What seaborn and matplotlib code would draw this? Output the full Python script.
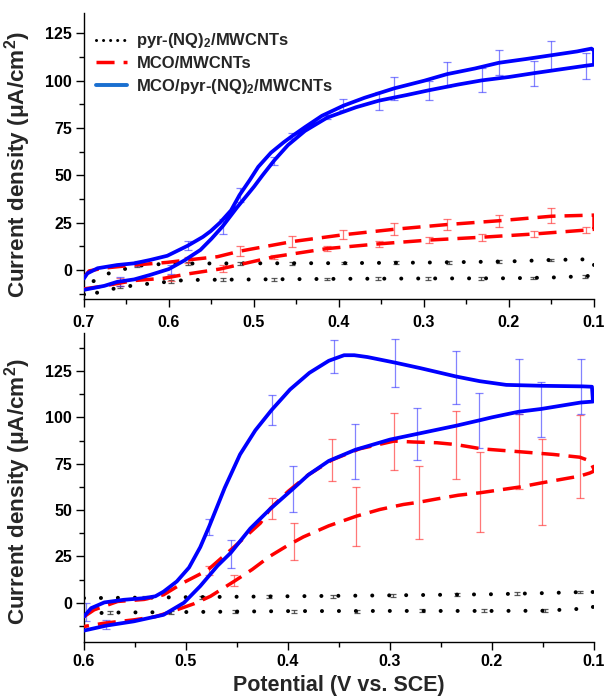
import matplotlib
matplotlib.use("Agg")
import matplotlib.pyplot as plt
from matplotlib.lines import Line2D
from matplotlib.ticker import MultipleLocator, FormatStrFormatter
import pandas as pd
import seaborn as sns

# ---------------- data ----------------
# Top panel: forward (upper) branch 0.7 -> 0.1, backward (lower) branch 0.1 -> 0.7
t_blue_up_E = [0.700, 0.696, 0.684, 0.661, 0.641, 0.622, 0.602, 0.578, 0.560, 0.551, 0.540, 0.527, 0.517,
               0.505, 0.495, 0.480, 0.465, 0.455, 0.440, 0.420, 0.395, 0.370, 0.335, 0.300, 0.273, 0.240,
               0.212, 0.180, 0.150, 0.120, 0.103, 0.100]
t_blue_up_j = [-4.5, -1.8, 0.9, 2.6, 3.5, 5.3, 7.5, 12.8, 17.5, 20.5, 25.0, 31.5, 39.6,
               47.5, 54.5, 62.0, 67.5, 70.8, 75.5, 81.5, 86.8, 91.0, 96.0, 100.0, 103.5, 106.5,
               109.5, 111.5, 113.5, 115.5, 117.0, 116.0]
t_blue_dn_E = [0.100, 0.109, 0.140, 0.171, 0.200, 0.232, 0.260, 0.294, 0.320, 0.353, 0.380, 0.414, 0.440,
               0.460, 0.476, 0.490, 0.500, 0.520, 0.537, 0.550, 0.563, 0.582, 0.600, 0.622, 0.641, 0.661,
               0.676, 0.700]
t_blue_dn_j = [108.5, 108.0, 106.0, 104.0, 102.0, 100.2, 98.0, 95.0, 92.5, 89.5, 86.0, 80.5, 73.5,
               66.0, 58.0, 50.0, 44.0, 33.0, 23.0, 16.5, 10.6, 5.0, 0.5, -2.6, -5.0, -6.3,
               -8.4, -10.5]

t_red_up_E = [0.700, 0.694, 0.676, 0.641, 0.602, 0.578, 0.543, 0.517, 0.455, 0.395, 0.335, 0.273, 0.212,
              0.150, 0.100]
t_red_up_j = [-4.0, -0.5, 1.0, 2.6, 4.0, 5.3, 7.0, 9.9, 15.0, 18.6, 21.5, 24.0, 26.0, 28.4, 29.0]
t_red_dn_E = [0.100, 0.109, 0.171, 0.232, 0.294, 0.353, 0.414, 0.476, 0.527, 0.540, 0.578, 0.606, 0.641,
              0.661, 0.684, 0.700]
t_red_dn_j = [21.5, 21.1, 19.0, 17.3, 15.8, 13.8, 11.3, 7.0, 1.8, 0.5, -2.1, -4.4, -5.6, -7.2, -9.0, -10.0]

t_blk_up_E = [0.700, 0.692, 0.673, 0.653, 0.635, 0.615, 0.580, 0.500, 0.400, 0.300, 0.200, 0.150, 0.110, 0.100]
t_blk_up_j = [-13.0, -6.7, -2.1, 0.4, 2.3, 3.0, 3.4, 3.5, 3.6, 3.9, 4.5, 5.3, 5.6, 5.5]
t_blk_dn_E = [0.100, 0.111, 0.150, 0.200, 0.300, 0.400, 0.500, 0.580, 0.596, 0.618, 0.637, 0.657, 0.676,
              0.696, 0.700]
t_blk_dn_j = [-3.0, -3.3, -4.0, -4.4, -4.5, -4.7, -5.0, -5.3, -6.0, -7.0, -7.9, -9.2, -10.9, -13.5, -14.0]

# Top panel error bars
t_blue_eb_E = [0.637, 0.578, 0.517, 0.455, 0.395, 0.335, 0.273, 0.212, 0.150,
               0.658, 0.598, 0.537, 0.476, 0.414, 0.353, 0.294, 0.232, 0.171, 0.109]
t_blue_eb_j = [3.6, 13.0, 39.6, 71.0, 87.5, 95.8, 103.4, 109.7, 113.4,
               -6.2, 0.3, 22.9, 57.7, 81.0, 89.3, 94.9, 100.4, 103.8, 108.0]
t_blue_eb_e = [1.3, 2.3, 3.5, 1.6, 2.9, 6.0, 6.6, 6.6, 7.7,
               2.3, 2.4, 4.0, 2.2, 1.0, 4.8, 5.1, 6.2, 6.4, 6.8]

t_red_eb_E = [0.578, 0.517, 0.455, 0.395, 0.335, 0.273, 0.212, 0.150,
              0.658, 0.598, 0.537, 0.476, 0.414, 0.353, 0.294, 0.232, 0.171, 0.109]
t_red_eb_j = [5.3, 9.9, 15.0, 18.6, 21.5, 24.0, 26.0, 28.6,
              -6.5, -4.4, 0.9, 7.0, 11.3, 13.8, 15.8, 17.3, 19.0, 21.1]
t_red_eb_e = [1.8, 2.6, 3.1, 2.5, 3.1, 2.8, 3.1, 4.0,
              2.0, 1.5, 1.8, 1.1, 1.1, 1.5, 1.8, 1.8, 1.8, 1.8]

t_blk_eb_E = [0.638, 0.578, 0.516, 0.455, 0.394, 0.333, 0.271, 0.212, 0.151,
              0.658, 0.598, 0.537, 0.476, 0.414, 0.354, 0.295, 0.233, 0.172, 0.111]
t_blk_eb_j = [2.2, 3.4, 3.5, 3.5, 3.6, 3.8, 4.1, 4.4, 5.3,
              -9.0, -6.0, -5.2, -5.0, -4.8, -4.6, -4.5, -4.4, -4.2, -3.3]
t_blk_eb_e = [0.7] * 19

# Bottom panel
b_blue_up_E = [0.600, 0.593, 0.580, 0.561, 0.541, 0.530, 0.522, 0.509, 0.497, 0.486, 0.477, 0.462, 0.447,
               0.432, 0.416, 0.398, 0.379, 0.360, 0.345, 0.335, 0.322, 0.295, 0.270, 0.235, 0.212, 0.186,
               0.150, 0.111, 0.102]
b_blue_up_j = [-7.4, -2.9, 0.2, 1.6, 2.5, 3.5, 6.0, 11.5, 19.0, 30.0, 41.5, 62.0, 80.0,
               93.0, 104.0, 115.0, 124.0, 130.5, 133.5, 133.5, 132.5, 129.5, 126.5, 122.0, 119.5, 117.5,
               117.0, 116.7, 116.5]
b_blue_dn_E = [0.101, 0.113, 0.152, 0.174, 0.200, 0.213, 0.235, 0.274, 0.300, 0.334, 0.360, 0.380, 0.395,
               0.418, 0.437, 0.456, 0.469, 0.486, 0.502, 0.522, 0.551, 0.578, 0.600]
b_blue_dn_j = [108.5, 108.0, 104.5, 103.0, 100.0, 98.3, 95.5, 91.0, 88.0, 82.5, 76.5, 69.0, 61.5,
               50.3, 40.0, 27.0, 20.0, 9.0, 0.0, -6.5, -10.0, -12.3, -15.0]

b_red_up_E = [0.600, 0.590, 0.567, 0.541, 0.522, 0.502, 0.479, 0.453, 0.427, 0.417, 0.400, 0.380, 0.357,
              0.330, 0.296, 0.277, 0.254, 0.235, 0.210, 0.174, 0.140, 0.114, 0.104, 0.100]
b_red_up_j = [-7.5, -3.8, 0.7, 1.8, 4.3, 11.0, 17.5, 30.0, 43.0, 51.0, 60.0, 69.0, 77.0,
              83.0, 87.2, 86.7, 86.3, 85.3, 83.0, 81.5, 80.0, 78.5, 76.5, 72.0]
b_red_dn_E = [0.100, 0.104, 0.114, 0.151, 0.172, 0.212, 0.233, 0.254, 0.272, 0.287, 0.310, 0.333, 0.360,
              0.385, 0.400, 0.418, 0.435, 0.453, 0.476, 0.492, 0.510, 0.530, 0.551, 0.580, 0.600]
b_red_dn_j = [71.0, 70.0, 68.3, 64.7, 62.5, 59.3, 58.0, 56.0, 54.2, 53.0, 50.3, 46.7, 41.5,
              35.5, 31.0, 25.0, 18.0, 11.5, 3.5, -0.5, -4.0, -7.5, -9.2, -11.0, -12.8]

b_blk_up_E = [0.600, 0.500, 0.400, 0.300, 0.200, 0.150, 0.110, 0.100]
b_blk_up_j = [2.5, 3.0, 3.5, 4.0, 4.6, 5.2, 5.8, 5.8]
b_blk_dn_E = [0.100, 0.104, 0.150, 0.200, 0.300, 0.400, 0.500, 0.580, 0.590, 0.600]
b_blk_dn_j = [-2.0, -3.0, -4.3, -4.4, -4.4, -4.5, -5.0, -5.3, -6.0, -7.0]

b_blue_eb_E = [0.598, 0.477, 0.416, 0.355, 0.295, 0.235, 0.174, 0.113,
               0.578, 0.456, 0.395, 0.334, 0.274, 0.213, 0.152]
b_blue_eb_j = [-5.0, 41.0, 103.8, 132.9, 129.3, 121.4, 116.5, 116.5,
               -11.7, 26.5, 61.5, 81.5, 91.0, 98.3, 104.2]
b_blue_eb_e = [5.0, 4.2, 8.0, 8.8, 12.9, 14.3, 14.9, 14.9,
               2.5, 7.5, 12.5, 15.0, 14.2, 14.7, 14.6]

b_red_eb_E = [0.477, 0.416, 0.357, 0.296, 0.235, 0.174, 0.114,
              0.453, 0.394, 0.333, 0.272, 0.212, 0.151]
b_red_eb_j = [17.4, 51.0, 77.2, 87.0, 85.2, 81.7, 78.7,
              12.0, 33.0, 46.7, 54.0, 59.6, 65.1]
b_red_eb_e = [2.3, 5.7, 11.3, 15.6, 18.2, 20.3, 22.3,
              3.2, 10.0, 15.9, 19.5, 21.6, 23.0]

b_blk_eb_E = [0.540, 0.484, 0.419, 0.356, 0.297, 0.234, 0.175, 0.114,
              0.574, 0.515, 0.452, 0.394, 0.332, 0.269, 0.208, 0.148]
b_blk_eb_j = [2.8, 3.0, 3.4, 3.6, 4.0, 4.3, 4.9, 5.8,
              -5.5, -5.0, -4.7, -4.6, -4.5, -4.4, -4.4, -4.3]
b_blk_eb_e = [0.8] * 16

legend_labels = ["pyr-(NQ)$_2$/MWCNTs", "MCO/MWCNTs", "MCO/pyr-(NQ)$_2$/MWCNTs"]
x_label = "Potential (V vs. SCE)"
y_label = "Current density (\u03bcA/cm$^2$)"

# ---------------- style ----------------
sns.set_style("ticks")
plt.rcParams.update({
    "font.family": ["Liberation Sans", "DejaVu Sans"],
    "font.weight": "bold",
    "axes.labelweight": "bold",
    "mathtext.fontset": "custom",
    "mathtext.rm": "Liberation Sans:bold",
    "mathtext.bf": "Liberation Sans:bold",
    "mathtext.it": "Liberation Sans:bold:italic",
    "mathtext.default": "bf",
    "axes.edgecolor": "black",
    "axes.linewidth": 1.0,
    "xtick.color": "black",
    "ytick.color": "black",
})

BLUE = "#0000ff"
RED = "#ff0000"
BLK = "#000000"
DOT = dict(color=BLK, lw=2.9, linestyle=(0, (0.01, 4.2)), dash_capstyle="round")
DASH = dict(color=RED, lw=2.5, linestyle=(0, (5.2, 2.6)))
SOLID = dict(color=BLUE, lw=2.7, linestyle="-")


def loop(ax, e_up, j_up, e_dn, j_dn, style):
    df = pd.DataFrame({"E": list(e_up) + list(e_dn), "j": list(j_up) + list(j_dn)})
    sns.lineplot(data=df, x="E", y="j", sort=False, estimator=None, ax=ax,
                 zorder=3, legend=False, **style)


def ebars(ax, e, j, err, color, alpha, cap):
    ax.errorbar(e, j, yerr=err, fmt="none", ecolor=color, elinewidth=0.9,
                capsize=cap, capthick=0.9, alpha=alpha, zorder=2)


fig = plt.figure(figsize=(6.05, 6.96), dpi=100)
ax1 = fig.add_axes([0.1388, 0.570, 0.843, 0.4118])
ax2 = fig.add_axes([0.1388, 0.078, 0.843, 0.4436])

# top panel
ebars(ax1, t_blk_eb_E, t_blk_eb_j, t_blk_eb_e, "#333333", 0.8, 2.5)
ebars(ax1, t_red_eb_E, t_red_eb_j, t_red_eb_e, "#ff3030", 0.65, 3.2)
ebars(ax1, t_blue_eb_E, t_blue_eb_j, t_blue_eb_e, "#3030ff", 0.6, 3.2)
loop(ax1, t_blk_up_E, t_blk_up_j, t_blk_dn_E, t_blk_dn_j, DOT)
loop(ax1, t_red_up_E, t_red_up_j, t_red_dn_E, t_red_dn_j, DASH)
loop(ax1, t_blue_up_E, t_blue_up_j, t_blue_dn_E, t_blue_dn_j, SOLID)

# bottom panel
ebars(ax2, b_blk_eb_E, b_blk_eb_j, b_blk_eb_e, "#333333", 0.8, 2.5)
ebars(ax2, b_red_eb_E, b_red_eb_j, b_red_eb_e, "#ff3030", 0.65, 3.2)
ebars(ax2, b_blue_eb_E, b_blue_eb_j, b_blue_eb_e, "#3030ff", 0.6, 3.2)
loop(ax2, b_blk_up_E, b_blk_up_j, b_blk_dn_E, b_blk_dn_j, DOT)
loop(ax2, b_red_up_E, b_red_up_j, b_red_dn_E, b_red_dn_j, DASH)
loop(ax2, b_blue_up_E, b_blue_up_j, b_blue_dn_E, b_blue_dn_j, SOLID)

for ax, xl, yl, xpad in ((ax1, (0.7, 0.1), (-15.5, 136), 6.0), (ax2, (0.6, 0.1), (-21, 145.5), 3.5)):
    ax.set_xlim(*xl)
    ax.set_ylim(*yl)
    ax.xaxis.set_major_locator(MultipleLocator(0.1))
    ax.xaxis.set_minor_locator(MultipleLocator(0.05))
    ax.xaxis.set_major_formatter(FormatStrFormatter("%.1f"))
    ax.yaxis.set_major_locator(MultipleLocator(25))
    ax.yaxis.set_minor_locator(MultipleLocator(12.5))
    ax.tick_params(which="major", direction="out", length=5.5, width=1.0,
                   labelsize=11.5, pad=3.0)
    ax.tick_params(which="minor", direction="out", length=3.5, width=1.0)
    ax.tick_params(axis="x", which="major", pad=xpad)
    for lab in ax.get_xticklabels() + ax.get_yticklabels():
        lab.set_fontweight("bold")
    ax.set_ylabel(y_label, fontsize=16.2, fontweight="bold", labelpad=6)
    ax.set_xlabel("")
    sns.despine(ax=ax)

ax1.yaxis.set_label_coords(-0.100, 0.47)
ax2.yaxis.set_label_coords(-0.100, 0.485)
ax2.set_xlabel(x_label, fontsize=15.5, fontweight="bold", labelpad=4)

handles = [
    Line2D([], [], color=BLK, lw=2.2, linestyle=(0, (0.01, 2.3)), dash_capstyle="round"),
    Line2D([], [], **DASH),
    Line2D([], [], color="#1a6fd0", lw=2.8),
]
ax1.legend(handles, legend_labels, loc="upper left", bbox_to_anchor=(0.0, 0.975),
           frameon=False, prop={"weight": "bold", "size": 12}, handlelength=1.9,
           handletextpad=0.55, labelspacing=0.35, borderaxespad=0.3)

fig.savefig("out.png", dpi=100)
